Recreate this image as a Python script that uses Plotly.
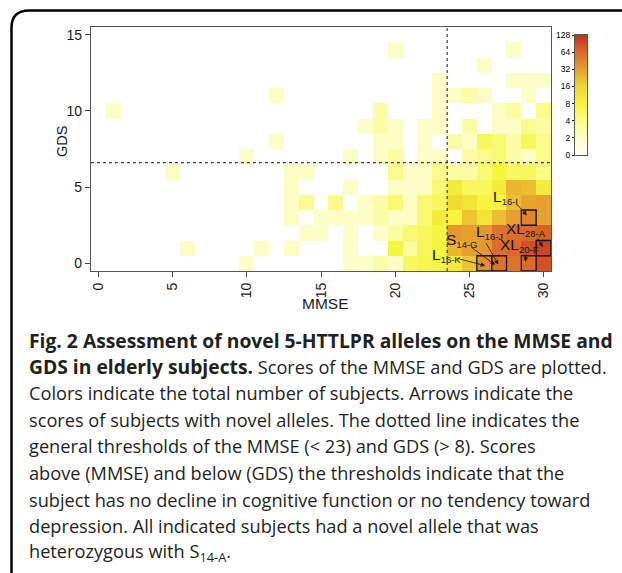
import numpy as np
import plotly.graph_objects as go

# ---------------- data ----------------
mmse = list(range(31))          # x categories (MMSE score 0..30)
gds = list(range(16))           # y categories (GDS score 0..15)

# number of subjects per (GDS row, MMSE column)
gds_00 = [0,0,0,0,0,0,0,0,0,0, 2,0,0,0,0,0,0,2,2,3, 2,6,7,8,10,20,40,55,55,64, 85]
gds_01 = [0,0,0,0,0,0,2,0,0,0, 0,2,0,2,0,0,0,2,0,0, 8,3,6,8,24,32,35,60,64,85, 100]
gds_02 = [0,0,0,0,0,0,0,0,0,0, 0,0,0,0,2,2,0,2,0,2, 3,5,6,8,35,32,35,55,60,65, 70]
gds_03 = [0,0,0,0,0,0,0,0,0,0, 0,0,0,2,0,2,2,2,2,3, 2,2,5,10,8,20,12,22,32,45, 32]
gds_04 = [0,0,0,0,0,0,0,0,0,0, 0,0,0,2,4,0,4,0,2,3, 5,2,5,6,14,12,8,8,22,30, 32]
gds_05 = [0,0,0,0,0,0,0,0,0,0, 0,0,0,2,0,0,0,2,0,0, 2,2,2,5,10,6,6,10,24,22, 10]
gds_06 = [0,0,0,0,0,2,0,0,0,0, 0,0,0,2,2,0,0,0,0,0, 4,2,2,4,3,3,5,8,6,6, 4]
gds_07 = [0,0,0,0,0,0,0,0,0,0, 2,0,0,0,0,0,0,2,0,2, 3,0,2,2,0,3,4,5,3,2, 4]
gds_08 = [0,0,0,0,0,0,0,0,0,0, 0,0,2,0,0,0,0,0,0,2, 2,0,2,0,3,2,6,5,3,6, 4]
gds_09 = [0,0,0,0,0,0,0,0,0,0, 0,0,0,0,0,0,0,0,2,3, 2,0,2,2,0,3,0,2,2,4, 3]
gds_10 = [0,2,0,0,0,0,0,0,0,0, 0,0,0,0,0,0,0,0,0,3, 0,0,0,2,0,0,0,2,3,0, 4]
gds_11 = [0,0,0,0,0,0,0,0,0,0, 0,0,2,0,0,0,0,0,0,0, 0,0,0,2,2,3,2,0,0,2, 0]
gds_12 = [0,0,0,0,0,0,0,0,0,0, 0,0,0,0,0,0,0,0,0,0, 0,0,0,2,0,0,0,0,2,2, 2]
gds_13 = [0,0,0,0,0,0,0,0,0,0, 0,0,0,0,0,0,0,0,0,0, 0,0,0,0,0,0,2,0,0,0, 0]
gds_14 = [0,0,0,0,0,0,0,0,0,0, 0,0,0,0,0,0,0,0,0,0, 2,0,0,0,0,0,0,0,2,0, 0]
gds_15 = [0]*31

# colour-bar ticks
cb_ticktext = ["0", "2", "4", "8", "16", "32", "64", "128"]
cb_tickvals = [0, 1, 2, 3, 4, 5, 6, 7]

# threshold lines
mmse_line = 23.5
gds_line = 6.6

# novel-allele subjects: label, boxed cell (MMSE, GDS), label pos, arrow tail, arrow head
allele_labels = ["L", "XL", "XL", "L", "S", "L"]
allele_subs = ["16-I", "28-A", "20-F", "16-J", "14-G", "16-K"]
allele_label_mmse = [26.45, 27.35, 26.95, 25.3, 23.3, 22.35]
allele_label_gds = [4.35, 2.25, 1.17, 2.0, 1.5, 0.52]
arrow_tail_mmse = [28.12, 29.54, 28.87, 26.06, 25.05, 24.1]
arrow_tail_gds = [3.96, 1.73, 0.68, 1.44, 1.11, 0.35]
arrow_head_mmse = [28.87, 29.95, 28.75, 26.95, 26.73, 26.06]
arrow_head_gds = [3.15, 1.08, 0.11, -0.08, -0.09, -0.15]
boxed_mmse = [29, 30, 29, 27, 26]
boxed_gds = [3, 1, 0, 0, 0]

caption_lines = [
    "<b>Fig. 2 Assessment of novel 5-HTTLPR alleles on the MMSE and</b>",
    "<b>GDS in elderly subjects.</b> Scores of the MMSE and GDS are plotted.",
    "Colors indicate the total number of subjects. Arrows indicate the",
    "scores of subjects with novel alleles. The dotted line indicates the",
    "general thresholds of the MMSE (&lt; 23) and GDS (&gt; 8). Scores",
    "above (MMSE) and below (GDS) the thresholds indicate that the",
    "subject has no decline in cognitive function or no tendency toward",
    "depression. All indicated subjects had a novel allele that was",
    "heterozygous with S<sub>14-A</sub>.",
]

# ---------------- figure ----------------
counts = np.array([gds_00, gds_01, gds_02, gds_03, gds_04, gds_05, gds_06, gds_07,
                   gds_08, gds_09, gds_10, gds_11, gds_12, gds_13, gds_14, gds_15], dtype=float)
with np.errstate(divide="ignore"):
    zlog = np.where(counts > 0, np.log2(np.maximum(counts, 1)), np.nan)

cscale = [
    [0.0, "#ffffff"],
    [1/7, "#fdfdc6"],
    [2/7, "#fbfb8c"],
    [3/7, "#f7f53e"],
    [4/7, "#efd632"],
    [5/7, "#e6a02e"],
    [6/7, "#dc682a"],
    [1.0, "#cc2e1e"],
]

W, H = 622, 573
ML, MR, MT, MB = 91, 31, 27, 302
PW, PH = W - ML - MR, H - MT - MB


def px(X):
    return (X - ML) / PW


def py(Y):
    return (H - MB - Y) / PH


fig = go.Figure()
fig.add_trace(go.Heatmap(x=mmse, y=gds, z=zlog, zmin=0, zmax=7, colorscale=cscale,
                         showscale=False, hoverinfo="skip", xaxis="x", yaxis="y"))
fig.add_trace(go.Heatmap(x=[0, 1], y=cb_tickvals, z=[[v, v] for v in cb_tickvals],
                         zmin=0, zmax=7, colorscale=cscale, zsmooth="best",
                         showscale=False, hoverinfo="skip", xaxis="x2", yaxis="y2"))

axfont = dict(family="Liberation Sans, Arial, sans-serif", size=14, color="#1a1a1a")
fig.update_layout(
    width=W, height=H, margin=dict(l=ML, r=MR, t=MT, b=MB, autoexpand=False),
    paper_bgcolor="white", plot_bgcolor="white", showlegend=False,
    xaxis=dict(domain=[0, px(551)], range=[-0.5, 30.5], tickvals=[0, 5, 10, 15, 20, 25, 30],
               tickangle=-90, ticks="outside", ticklen=5, tickcolor="#444", tickwidth=1,
               showline=True, linecolor="#555", linewidth=1.2, mirror=True,
               showgrid=False, zeroline=False, tickfont=axfont, fixedrange=True),
    yaxis=dict(domain=[0, 1], range=[-0.5, 15.5], tickvals=[0, 5, 10, 15],
               ticks="outside", ticklen=5, tickcolor="#444", tickwidth=1,
               showline=True, linecolor="#555", linewidth=1.2, mirror=True,
               showgrid=False, zeroline=False, tickfont=axfont, fixedrange=True),
    xaxis2=dict(domain=[px(575), px(587)], anchor="y2", range=[-0.5, 1.5],
                showticklabels=False, ticks="", showline=True, linecolor="#555",
                linewidth=1, mirror=True, showgrid=False, zeroline=False, fixedrange=True),
    yaxis2=dict(domain=[py(155), py(35)], anchor="x2", range=[0, 7], side="left",
                tickvals=cb_tickvals, ticktext=cb_ticktext, ticks="outside", ticklen=2,
                tickcolor="#222", showline=True, linecolor="#555", linewidth=1,
                mirror=True, showgrid=False, zeroline=False, fixedrange=True,
                tickfont=dict(family="Liberation Sans, Arial, sans-serif", size=8.5, color="#000")),
)

shapes = []
# threshold lines
shapes.append(dict(type="line", xref="x", yref="y", x0=-0.5, x1=30.5, y0=gds_line, y1=gds_line,
                   line=dict(color="#111", width=1, dash="dot")))
shapes.append(dict(type="line", xref="x", yref="y", x0=mmse_line, x1=mmse_line, y0=-0.5, y1=15.5,
                   line=dict(color="#111", width=1, dash="dot")))
# boxes around cells
for m, g in zip(boxed_mmse, boxed_gds):
    shapes.append(dict(type="rect", xref="x", yref="y", x0=m - 0.5, x1=m + 0.5, y0=g - 0.5, y1=g + 0.5,
                       line=dict(color="#111", width=1.3)))
# outer rounded frame
shapes.append(dict(type="path", xref="paper", yref="paper",
                   path=(f"M {px(660)},{py(10.5)} L {px(29)},{py(10.5)} "
                         f"Q {px(11.5)},{py(10.5)} {px(11.5)},{py(28)} L {px(11.5)},{py(600)}"),
                   line=dict(color="#000", width=2.5)))
fig.update_layout(shapes=shapes)

ann = []
# allele labels
for lab, sub, lx, ly in zip(allele_labels, allele_subs, allele_label_mmse, allele_label_gds):
    ann.append(dict(xref="x", yref="y", x=lx, y=ly, xanchor="left", yanchor="middle",
                    text=f"{lab}<sub><span style='font-size:9.5px'>{sub}</span></sub>", showarrow=False,
                    font=dict(family="Liberation Sans, Arial, sans-serif", size=15.5, color="#111")))
# arrows
for tx, ty, hx, hy in zip(arrow_tail_mmse, arrow_tail_gds, arrow_head_mmse, arrow_head_gds):
    ann.append(dict(xref="x", yref="y", axref="x", ayref="y", x=hx, y=hy, ax=tx, ay=ty,
                    text="", showarrow=True, arrowhead=2, arrowsize=1.1, arrowwidth=0.8,
                    arrowcolor="#111", standoff=0, startstandoff=0))
# axis titles
ann.append(dict(xref="paper", yref="paper", x=px(325), y=py(303), xanchor="center", yanchor="middle",
                text="MMSE", showarrow=False,
                font=dict(family="Liberation Sans, Arial, sans-serif", size=15.5, color="#1a1a1a")))
ann.append(dict(xref="paper", yref="paper", x=px(62), y=py(142), xanchor="center", yanchor="middle",
                text="GDS", textangle=-90, showarrow=False,
                font=dict(family="Liberation Sans, Arial, sans-serif", size=14.5, color="#1a1a1a")))
# caption
cap_y = [340, 366.6, 393.2, 419.8, 446.4, 473, 499.6, 526.2, 552.8]
for i, (t, Y) in enumerate(zip(caption_lines, cap_y)):
    t = t.replace("<b>", "<b><span style='font-size:19.3px'>").replace("</b>", "</span></b>")
    ann.append(dict(xref="paper", yref="paper", x=px(27), y=py(Y), xanchor="left", yanchor="middle",
                    text=t, showarrow=False, align="left",
                    font=dict(family="Open Sans, sans-serif", size=18.2, color="#231f20")))
fig.update_layout(annotations=ann)

fig.write_html("out.html", config={"displayModeBar": False, "staticPlot": True},
               post_script="document.body.style.margin='0px';")
